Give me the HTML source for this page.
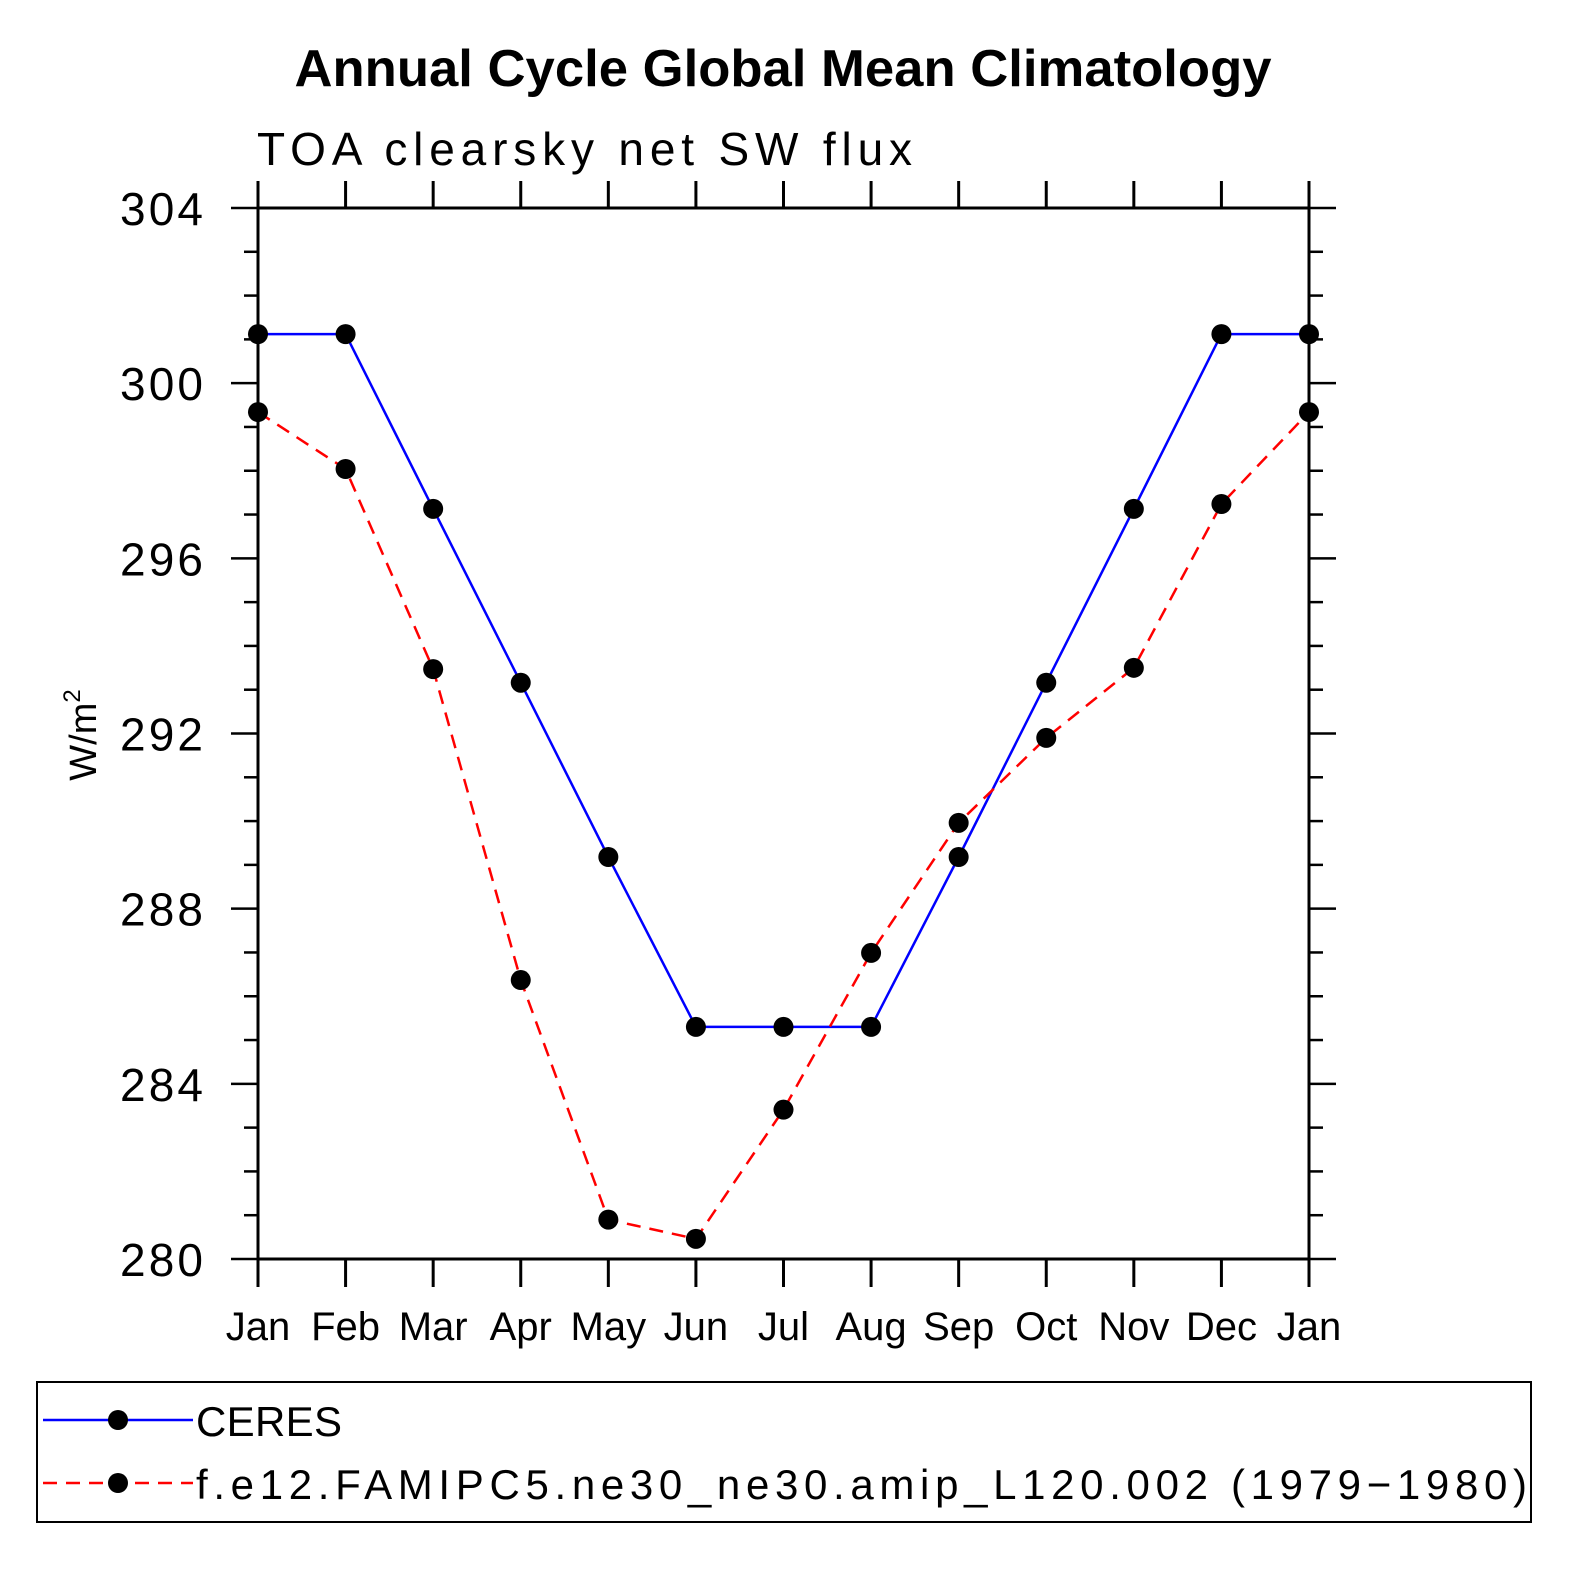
<!DOCTYPE html>
<html><head><meta charset="utf-8"><style>
html,body{margin:0;padding:0;background:#fff;}
svg text{font-family:"Liberation Sans",sans-serif;}
</style></head><body>
<svg id="chart" width="1575" height="1575" viewBox="0 0 1575 1575" xmlns="http://www.w3.org/2000/svg">
<text x="783" y="86" text-anchor="middle" font-size="52" font-weight="bold" textLength="977" lengthAdjust="spacingAndGlyphs">Annual Cycle Global Mean Climatology</text>
<text x="257" y="165" font-size="46" textLength="655" lengthAdjust="spacing">TOA clearsky net SW flux</text>
<text transform="translate(96,735) rotate(-90)" text-anchor="middle" font-size="38">W/m<tspan font-size="24" dy="-16">2</tspan></text>
<g id="grid"></g>
<g id="series"></g>
<rect x="37" y="1382" width="1494" height="140" fill="none" stroke="#000" stroke-width="2"/>
<g>
<line x1="43" y1="1420" x2="193" y2="1420" stroke="#0000ff" stroke-width="2.5"/>
<circle cx="118" cy="1420" r="10" fill="#000"/>
<text x="196" y="1436" font-size="42" textLength="146" lengthAdjust="spacing">CERES</text>
</g>
<g>
<line x1="43" y1="1483" x2="193" y2="1483" stroke="#ff0000" stroke-width="2.5" stroke-dasharray="14,9"/>
<circle cx="118" cy="1483" r="10" fill="#000"/>
<text x="196" y="1499" font-size="42" textLength="1331" lengthAdjust="spacing">f.e12.FAMIPC5.ne30_ne30.amip_L120.002 (1979−1980)</text>
</g>
</svg>
<script>
const months = ["Jan","Feb","Mar","Apr","May","Jun","Jul","Aug","Sep","Oct","Nov","Dec","Jan"];
const ceres = [301.12,301.12,297.13,293.16,289.18,285.3,285.3,285.3,289.18,293.16,297.13,301.12,301.12];
const model = [299.34,298.04,293.47,286.37,280.9,280.46,283.41,286.99,289.96,291.9,293.5,297.24,299.34];
const yTicks = [280,284,288,292,296,300,304];

const X0=258,X1=1309,Y0=1259,Y1=208,YMIN=280,YMAX=304;
const xs=i=>X0+(X1-X0)*i/(months.length-1);
const ys=v=>Y0-(v-YMIN)/(YMAX-YMIN)*(Y0-Y1);
const NS="http://www.w3.org/2000/svg";
const grid=document.getElementById('grid'), ser=document.getElementById('series');
function mk(tag,attrs,parent){const e=document.createElementNS(NS,tag);for(const k in attrs)e.setAttribute(k,attrs[k]);parent.appendChild(e);return e;}

for(let i=0;i<months.length;i++){
  const x=xs(i);
  const t1=mk('line',{x1:x,y1:Y1,x2:x,y2:Y1-27,stroke:'#000','stroke-width':3},grid);
  
  
  const t2=mk('line',{x1:x,y1:Y0,x2:x,y2:Y0+28,stroke:'#000','stroke-width':3},grid);
  
  
  const lb=mk('text',{x:x,y:1340,'text-anchor':'middle','font-size':40},grid);
  lb.textContent=months[i];
  
  
}
for(let v=YMIN;v<=YMAX;v++){
  const y=ys(v);
  const major=yTicks.includes(v);
  const len=major?27:14;
  const a=mk('line',{x1:X0,y1:y,x2:X0-len,y2:y,stroke:'#000','stroke-width':2.5},grid);
  
  
  const b=mk('line',{x1:X1,y1:y,x2:X1+len,y2:y,stroke:'#000','stroke-width':2.5},grid);
  
  
}
yTicks.forEach(v=>{
  const lb=mk('text',{x:120,y:ys(v)+17,'font-size':46,textLength:83,lengthAdjust:'spacing'},grid);
  lb.textContent=String(v);
  
  
});
const fr=mk('rect',{x:X0,y:Y1,width:X1-X0,height:Y0-Y1,fill:'none',stroke:'#000','stroke-width':3},grid);



function drawSeries(vals,color,dash,name){
  const pts=vals.map((v,i)=>xs(i)+','+ys(v)).join(' ');
  const pl=mk('polyline',{points:pts,fill:'none',stroke:color,'stroke-width':2.5},ser);
  if(dash)pl.setAttribute('stroke-dasharray',dash);
  
  
  vals.forEach((v,i)=>{
    const c=mk('circle',{cx:xs(i),cy:ys(v),r:10,fill:'#000'},ser);
    
    
  });
}
drawSeries(ceres,'#0000ff',null,'ceres');
drawSeries(model,'#ff0000','14,9','model');
</script>
</body></html>
